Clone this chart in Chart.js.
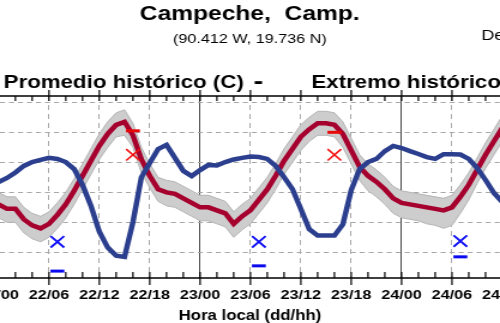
<!DOCTYPE html>
<html>
<head>
<meta charset="utf-8">
<script src="https://cdn.jsdelivr.net/npm/chart.js@4.4.1/dist/chart.umd.min.js"></script>
<style>
  html, body { margin: 0; padding: 0; background: #fff; overflow: hidden; }
  /* the original picture is stretched sideways, so the canvas is too */
  #wrap { width: 417px; height: 323px; transform: scaleX(1.199); transform-origin: 0 0; }
  canvas { display: block; }
</style>
</head>
<body>
<div id="wrap"><canvas id="chart" width="417" height="323"></canvas></div>
<script>
// Hours since 22/00 (hora local)
const hours = [0, 1, 2, 3, 4, 5, 6, 7, 8, 9, 10, 11, 12, 13, 14, 15, 16, 17, 18, 19,
    20, 21, 22, 23, 24, 25, 26, 27, 28, 29, 30, 31, 32, 33, 34, 35, 36, 37, 38, 39,
    40, 41, 42, 43, 44, 45, 46, 47, 48, 49, 50, 51, 52, 53, 54, 55, 56, 57, 58, 59, 60];

// Promedio histórico de temperatura (C)
const tempMean = [27.2, 26.9, 26.9, 26.2, 25.8, 25.6, 25.9, 26.5, 27.2, 28.1,
    29.1, 30.1, 31.1, 31.9, 32.5, 32.7, 31.8, 30.2, 29.1, 28.2,
    28.0, 27.9, 27.6, 27.3, 27.0, 27.0, 26.8, 26.6, 25.9, 26.4,
    26.8, 27.5, 28.2, 29.1, 30.1, 30.9, 31.7, 32.2, 32.6, 32.6,
    32.5, 31.9, 30.8, 29.7, 29.1, 28.7, 28.2, 27.6, 27.3, 27.2,
    27.1, 27.0, 26.9, 26.8, 27.0, 27.7, 28.5, 29.5, 30.5, 31.4, 32.3];

// Banda de variabilidad (gris)
const bandUpper = [28.0, 27.7, 27.7, 27.0, 26.6, 26.4, 26.7, 27.3, 28.0, 28.9,
    29.9, 30.9, 31.9, 32.7, 33.3, 33.5, 32.6, 31.0, 29.9, 29.0,
    28.8, 28.7, 28.4, 28.1, 27.8, 27.8, 27.6, 27.4, 26.7, 27.2,
    27.6, 28.3, 29.0, 29.9, 30.9, 31.7, 32.5, 33.0, 33.4, 33.4,
    33.3, 32.7, 31.6, 30.5, 29.9, 29.5, 29.0, 28.4, 28.1, 28.0,
    27.9, 27.8, 27.7, 27.6, 27.8, 28.5, 29.3, 30.3, 31.3, 32.2, 33.1];
const bandLower = [26.3, 26.0, 26.0, 25.3, 24.9, 24.7, 25.0, 25.6, 26.3, 27.2,
    28.2, 29.2, 30.2, 31.0, 31.7, 31.8, 31.0, 29.3, 28.3, 27.4,
    27.1, 27.0, 26.7, 26.4, 26.1, 26.1, 25.9, 25.7, 25.0, 25.5,
    25.9, 26.6, 27.3, 28.2, 29.2, 30.0, 30.8, 31.4, 31.8, 31.8,
    31.7, 31.0, 29.9, 28.8, 28.1, 27.7, 27.2, 26.6, 26.3, 26.2,
    26.1, 25.9, 25.8, 25.6, 25.8, 26.6, 27.5, 28.6, 29.6, 30.5, 31.4];

// Humedad relativa (%)
const humidity = [66.9, 68.5, 70.6, 73.1, 74.6, 75.4, 76.2, 75.8, 74.6, 71.9,
    65.8, 57.7, 47.8, 41.7, 38.6, 38.1, 51.5, 68.7, 74.2, 79.6,
    81.2, 76.2, 71.2, 69.2, 71.5, 73.5, 73.3, 74.6, 75.6, 76.2,
    76.7, 76.5, 75.8, 73.1, 68.8, 64.2, 56.5, 48.8, 46.3, 46.3,
    46.3, 50.6, 63.8, 71.9, 74.6, 75.8, 78.8, 80.8, 80.0, 78.8,
    77.7, 76.5, 75.8, 77.6, 77.6, 77.5, 75.8, 72.3, 67.7, 62.7, 59.2];

// Mínimas y máximas
const minHours = [7, 31, 55];
const minObs = [24.7, 24.7, 24.75];
const minExtreme = [22.75, 23.1, 23.7];
const maxHours = [16, 40];
const maxObs = [30.5, 30.5];
const maxExtreme = [32.1, 32.0];

// Axis ticks
const tickHours = [0, 6, 12, 18, 24, 30, 36, 42, 48, 54, 60];
const tickLabels = ['22/00', '22/06', '22/12', '22/18', '23/00', '23/06', '23/12', '23/18', '24/00', '24/06', '24/12'];
const tempGrid = [24, 26, 28, 30, 32, 34];

const titleText = 'Campeche,  Camp.';
const subtitleText = '(90.412 W, 19.736 N)';

const pts = (xs, ys) => xs.map((h, i) => ({ x: h, y: ys[i] }));

const FONT = '"Liberation Sans", Arial, sans-serif';
Chart.defaults.font.family = FONT;

// Frame, tick marks and header texts
const framePlugin = {
    id: 'frame',
    afterDraw(chart) {
        const { ctx, chartArea: a, scales: { x } } = chart;
        ctx.save();
        ctx.strokeStyle = '#000';
        ctx.lineWidth = 1.5;
        ctx.beginPath();
        ctx.moveTo(a.left, a.top); ctx.lineTo(a.right, a.top);
        ctx.moveTo(a.left, a.bottom); ctx.lineTo(a.right, a.bottom);
        ctx.stroke();

        ctx.lineWidth = 1.2;
        ctx.beginPath();
        for (let h = 0; h <= 60; h += 2) {
            const px = x.getPixelForValue(h);
            const major = h % 6 === 0;
            ctx.moveTo(px, a.top - (major ? 6 : 0));
            ctx.lineTo(px, a.top + 5);
            ctx.moveTo(px, a.bottom - 6);
            ctx.lineTo(px, a.bottom + (major ? 7 : 0));
        }
        ctx.stroke();

        ctx.fillStyle = '#000';
        ctx.textBaseline = 'alphabetic';
        ctx.textAlign = 'center';
        ctx.font = 'bold 20.5px ' + FONT;
        ctx.fillText(titleText, 208.3, 19.5);
        ctx.font = '13.5px ' + FONT;
        ctx.fillText(subtitleText, 208.3, 43);

        ctx.textAlign = 'left';
        ctx.font = '15px ' + FONT;
        ctx.fillText('De', 401.5, 40);
        ctx.font = 'bold 18.6px ' + FONT;
        ctx.fillText('Promedio histórico (C)', 3, 87.5);
        ctx.fillText('Extremo histórico (C)', 259.7, 87.5);
        ctx.font = 'bold 24px ' + FONT;
        ctx.fillText('-', 211.4, 88.5);
        ctx.restore();
    },
};

new Chart(document.getElementById('chart'), {
    type: 'line',
    data: {
        datasets: [
            {
                label: 'Mínima',
                data: pts(minHours, minObs),
                showLine: false,
                pointStyle: 'crossRot',
                pointRadius: 8,
                pointBorderColor: '#0c0cf5',
                pointBorderWidth: 1.8,
                order: 0,
            },
            {
                label: 'Mínima extrema',
                data: pts(minHours, minExtreme),
                showLine: false,
                pointStyle: 'line',
                pointRadius: 5.8,
                pointBorderColor: '#0a0aee',
                pointBorderWidth: 3,
                order: 0,
            },
            {
                label: 'Máxima',
                data: pts(maxHours, maxObs),
                showLine: false,
                pointStyle: 'crossRot',
                pointRadius: 8,
                pointBorderColor: '#f51010',
                pointBorderWidth: 1.6,
                order: 0,
            },
            {
                label: 'Máxima extrema',
                data: pts(maxHours, maxExtreme),
                showLine: false,
                pointStyle: 'line',
                pointRadius: 5.8,
                pointBorderColor: '#e80808',
                pointBorderWidth: 3,
                order: 0,
            },
            {
                label: 'Humedad',
                data: pts(hours, humidity),
                yAxisID: 'yHum',
                borderColor: '#2b3f8e',
                borderWidth: 4.5,
                pointRadius: 0,
                order: 1,
            },
            {
                label: 'Promedio histórico',
                data: pts(hours, tempMean),
                borderColor: '#a6002e',
                borderWidth: 4.5,
                pointRadius: 0,
                order: 2,
            },
            {
                label: 'Banda superior',
                data: pts(hours, bandUpper),
                borderColor: '#b4b4b4',
                borderWidth: 1,
                pointRadius: 0,
                fill: '+1',
                backgroundColor: '#cdcdcd',
                order: 4,
            },
            {
                label: 'Banda inferior',
                data: pts(hours, bandLower),
                borderColor: '#b4b4b4',
                borderWidth: 1,
                pointRadius: 0,
                fill: false,
                order: 3,
            },
        ],
    },
    options: {
        responsive: false,
        devicePixelRatio: 1,
        animation: false,
        layout: { autoPadding: false, padding: { top: 96, left: 0, right: 0, bottom: 0 } },
        plugins: {
            legend: { display: false },
            tooltip: { enabled: false },
        },
        scales: {
            x: {
                type: 'linear',
                min: 0.167,
                max: 59.72,
                afterBuildTicks: (axis) => {
                    axis.ticks = tickHours.map(v => ({ value: v }));
                },
                afterFit: (scale) => {
                    scale.height = 45;
                    scale.paddingLeft = 0;
                    scale.paddingRight = 0;
                },
                grid: {
                    drawTicks: false,
                    lineWidth: 1,
                    color: (c) => (c.tick && c.tick.value % 24 === 0) ? '#4a4a4a' : '#a8a8a8',
                },
                border: {
                    display: false,
                    dash: (c) => (c.tick && c.tick.value % 24 === 0) ? [] : [5, 4],
                },
                ticks: {
                    autoSkip: false,
                    maxRotation: 0,
                    padding: 9.5,
                    color: '#000',
                    font: { size: 13.5, weight: 'bold' },
                    callback: (value, index) => tickLabels[index],
                },
                title: {
                    display: true,
                    text: 'Hora local (dd/hh)',
                    color: '#000',
                    font: { size: 14, weight: 'bold', lineHeight: 1 },
                    padding: { top: 0, bottom: 0 },
                },
            },
            y: {
                min: 22.29,
                max: 34.42,
                afterBuildTicks: (axis) => {
                    axis.ticks = tempGrid.map(v => ({ value: v }));
                },
                afterFit: (scale) => {
                    scale.width = 0;
                },
                grid: {
                    drawTicks: false,
                    lineWidth: 1,
                    color: '#a8a8a8',
                },
                border: { display: false, dash: [4.2, 3.3] },
                ticks: { display: false },
            },
            yHum: {
                display: false,
                min: 30,
                max: 100,
            },
        },
    },
    plugins: [framePlugin],
});
</script>
</body>
</html>
